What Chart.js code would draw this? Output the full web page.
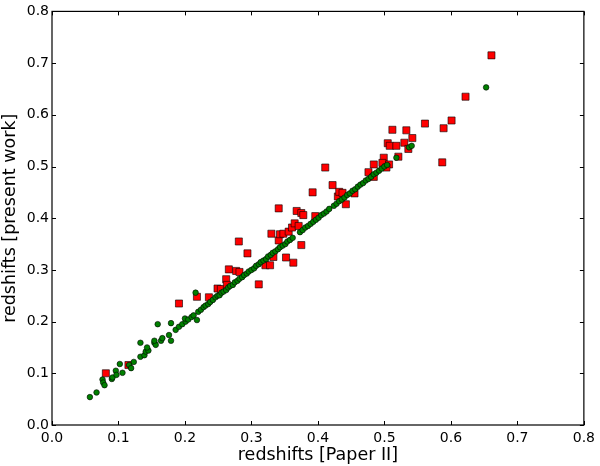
<!DOCTYPE html>
<html>
<head>
<meta charset="utf-8">
<script src="https://cdn.jsdelivr.net/npm/chart.js@4/dist/chart.umd.min.js"></script>
<style>
  html, body { margin: 0; padding: 0; background: #fff; }
  #wrap { width: 600px; height: 466px; position: relative; }
</style>
</head>
<body>
<div id="wrap"><canvas id="myChart"></canvas></div>
<script>
// tick values shared by both axes
const tickValues = [0.0, 0.1, 0.2, 0.3, 0.4, 0.5, 0.6, 0.7, 0.8];

// red squares (Paper II vs present work, outliers)
const redX = [0.081, 0.115, 0.191, 0.218, 0.236, 0.249, 0.254, 0.262, 0.263, 0.266,
  0.277, 0.282, 0.281, 0.294, 0.311, 0.321, 0.328, 0.333, 0.330, 0.341,
  0.343, 0.348, 0.341, 0.352, 0.356, 0.361, 0.363, 0.365, 0.371, 0.368,
  0.375, 0.378, 0.375, 0.396, 0.392, 0.411, 0.422, 0.430, 0.432, 0.437,
  0.442, 0.455, 0.476, 0.484, 0.484, 0.499, 0.497, 0.507, 0.503, 0.521,
  0.505, 0.508, 0.518, 0.530, 0.536, 0.542, 0.512, 0.533, 0.561, 0.589,
  0.601, 0.587, 0.622, 0.661];
const redY = [0.100, 0.116, 0.235, 0.248, 0.247, 0.264, 0.263, 0.282, 0.271, 0.301,
  0.298, 0.296, 0.355, 0.332, 0.272, 0.309, 0.309, 0.325, 0.370, 0.357,
  0.369, 0.370, 0.419, 0.324, 0.374, 0.382, 0.314, 0.390, 0.385, 0.414,
  0.410, 0.406, 0.348, 0.404, 0.450, 0.498, 0.464, 0.442, 0.451, 0.449,
  0.427, 0.448, 0.489, 0.504, 0.480, 0.517, 0.507, 0.504, 0.498, 0.519,
  0.545, 0.540, 0.540, 0.546, 0.534, 0.555, 0.571, 0.570, 0.583, 0.574,
  0.589, 0.508, 0.635, 0.715];

// green circles
const greenX = [0.057, 0.067, 0.076, 0.077, 0.079, 0.090, 0.091, 0.096, 0.097, 0.106,
  0.102, 0.116, 0.119, 0.123, 0.133, 0.133, 0.139, 0.141, 0.145, 0.143,
  0.154, 0.156, 0.159, 0.154, 0.164, 0.166, 0.176, 0.179, 0.179, 0.186,
  0.191, 0.196, 0.201, 0.200, 0.205, 0.210, 0.213, 0.216, 0.218,
  0.220, 0.224, 0.228, 0.231, 0.235, 0.238, 0.242, 0.246, 0.249, 0.252,
  0.255, 0.258, 0.262, 0.265, 0.268, 0.272, 0.275, 0.279, 0.282, 0.286,
  0.289, 0.293, 0.296, 0.300, 0.304, 0.307, 0.311, 0.314, 0.318, 0.322,
  0.325, 0.329, 0.332, 0.336, 0.340, 0.343, 0.347, 0.351, 0.354, 0.358,
  0.362, 0.373, 0.377, 0.381, 0.385, 0.389, 0.393, 0.397, 0.401, 0.405,
  0.409, 0.413, 0.417, 0.424, 0.428, 0.432, 0.436, 0.440, 0.444, 0.448,
  0.452, 0.456, 0.460, 0.464, 0.468, 0.472, 0.476, 0.480, 0.484, 0.488,
  0.492, 0.496, 0.500, 0.504, 0.518, 0.537, 0.541, 0.653];
const greenY = [0.054, 0.063, 0.088, 0.082, 0.077, 0.089, 0.092, 0.105, 0.097, 0.101,
  0.118, 0.116, 0.110, 0.122, 0.159, 0.132, 0.135, 0.142, 0.144, 0.150,
  0.159, 0.155, 0.195, 0.163, 0.163, 0.168, 0.174, 0.197, 0.163, 0.184,
  0.190, 0.195, 0.200, 0.206, 0.204, 0.209, 0.212, 0.256, 0.203,
  0.219, 0.223, 0.228, 0.231, 0.234, 0.238, 0.242, 0.247, 0.250, 0.251,
  0.256, 0.258, 0.261, 0.266, 0.269, 0.271, 0.276, 0.279, 0.283, 0.286,
  0.290, 0.293, 0.297, 0.300, 0.303, 0.308, 0.311, 0.315, 0.318, 0.321,
  0.326, 0.329, 0.333, 0.336, 0.340, 0.344, 0.347, 0.350, 0.355, 0.358,
  0.362, 0.373, 0.377, 0.382, 0.385, 0.389, 0.393, 0.397, 0.401, 0.406,
  0.409, 0.413, 0.418, 0.424, 0.428, 0.433, 0.436, 0.440, 0.445, 0.448,
  0.453, 0.456, 0.461, 0.465, 0.468, 0.473, 0.476, 0.480, 0.485, 0.488,
  0.492, 0.496, 0.500, 0.503, 0.517, 0.537, 0.540, 0.653];

const toPoints = (xs, ys) => xs.map((x, i) => ({ x: x, y: ys[i] }));

// matplotlib style frame: box on all four sides, ticks pointing inwards
const frame = {
  id: 'frame',
  afterDraw(chart) {
    const ctx = chart.ctx;
    const a = chart.chartArea;
    const sx = chart.scales.x, sy = chart.scales.y;
    ctx.save();
    ctx.strokeStyle = '#000';
    ctx.lineWidth = 1;
    ctx.beginPath();
    tickValues.forEach(v => {
      const px = Math.round(sx.getPixelForValue(v)) + 0.5;
      ctx.moveTo(px, a.bottom); ctx.lineTo(px, a.bottom - 4);
      ctx.moveTo(px, a.top); ctx.lineTo(px, a.top + 4);
      const py = Math.round(sy.getPixelForValue(v)) + 0.5;
      ctx.moveTo(a.left, py); ctx.lineTo(a.left + 4, py);
      ctx.moveTo(a.right, py); ctx.lineTo(a.right - 4, py);
    });
    ctx.stroke();
    ctx.lineWidth = 1.2;
    ctx.strokeRect(a.left, a.top, a.right - a.left, a.bottom - a.top);
    ctx.restore();
  }
};

const tickFont = { family: 'DejaVu Sans', size: 14 };
const titleFont = { family: 'DejaVu Sans', size: 17.5 };

var ctx = document.getElementById('myChart').getContext('2d');
var chart = new Chart(ctx, {
  type: 'scatter',
  plugins: [frame],
  data: {
    datasets: [
      {
        label: 'green',
        data: toPoints(greenX, greenY),
        pointStyle: 'circle',
        pointRadius: 2.8,
        backgroundColor: '#008000',
        borderColor: '#000',
        borderWidth: 0.6
      },
      {
        label: 'red',
        data: toPoints(redX, redY),
        pointStyle: 'rect',
        pointRadius: 5,
        backgroundColor: '#ff0000',
        borderColor: '#000',
        borderWidth: 0.6
      }
    ]
  },
  options: {
    responsive: true,
    maintainAspectRatio: false,
    animation: false,
    events: [],
    layout: { padding: { top: 11, right: 13, left: 0, bottom: 0 } },
    plugins: { legend: { display: false }, tooltip: { enabled: false } },
    scales: {
      x: {
        type: 'linear',
        min: 0, max: 0.8,
        afterFit: s => { s.height = 41; },
        afterBuildTicks: s => { s.ticks = tickValues.map(v => ({ value: v })); },
        grid: { display: false, drawTicks: false },
        border: { display: false },
        ticks: { color: '#000', font: tickFont, padding: 5, maxRotation: 0,
                 callback: v => Number(v).toFixed(1) },
        title: { display: true, text: 'redshifts [Paper II]', color: '#000',
                 font: titleFont, padding: { top: 0, bottom: 0 } }
      },
      y: {
        type: 'linear',
        min: 0, max: 0.8,
        afterFit: s => { s.width = 52; },
        afterBuildTicks: s => { s.ticks = tickValues.map(v => ({ value: v })); },
        grid: { display: false, drawTicks: false },
        border: { display: false },
        ticks: { color: '#000', font: tickFont, padding: 3,
                 callback: v => Number(v).toFixed(1) },
        title: { display: true, text: 'redshifts [present work]', color: '#000',
                 font: titleFont, padding: { top: 0, bottom: 0 } }
      }
    }
  }
});
</script>
</body>
</html>
